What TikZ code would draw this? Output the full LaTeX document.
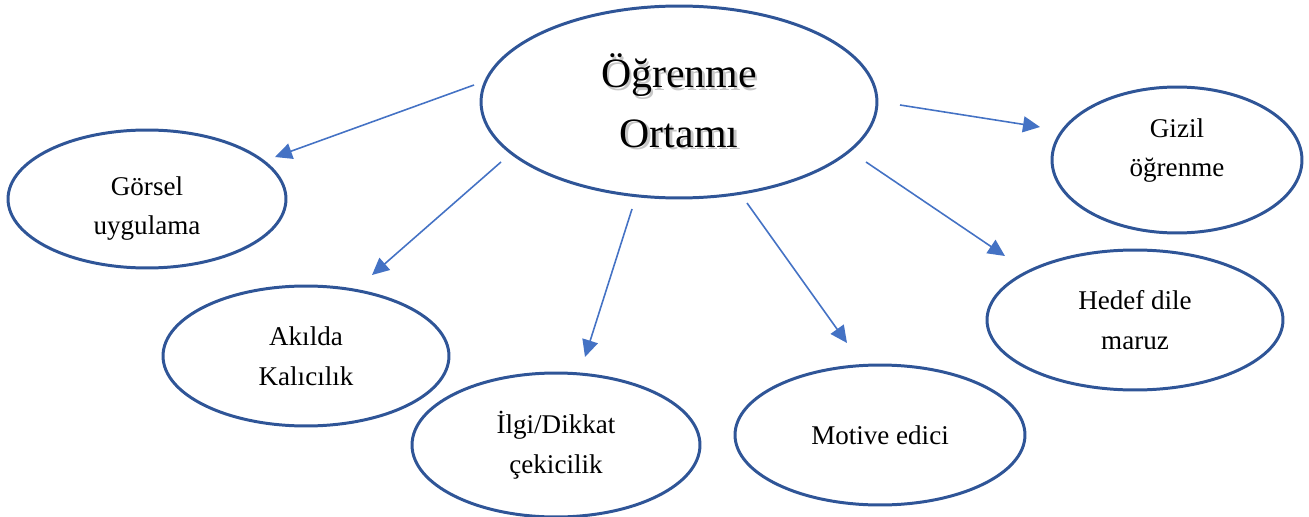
\documentclass[tikz,border=0pt]{standalone}
\usepackage{fontspec}
\setmainfont{Liberation Serif}
\usetikzlibrary{shapes.geometric,arrows.meta}
\definecolor{edge}{HTML}{2F5597}
\definecolor{arr}{HTML}{4472C4}
\newcommand{\shadowtxt}[1]{\rlap{\kern0.05cm\raisebox{-0.05cm}{\color{black!22}#1}}#1}
\newcommand{\liftlines}[3]{\raisebox{#1}[\height][\depth]{\begin{tabular}{@{}c@{}}#2\\#3\end{tabular}}}
\tikzset{
  oval/.style={ellipse, draw=edge, line width=1.7pt, inner sep=0pt, align=center,
    font=\fontsize{15.4}{22.7}\selectfont},
  conn/.style={draw=arr, line width=0.9pt, -{Triangle[length=0.34cm,width=0.32cm]}},
}
\begin{document}
\begin{tikzpicture}[x=0.02cm,y=-0.02cm]
\useasboundingbox (0,0) rectangle (1309,517);
\node[oval, minimum width=7.92cm, minimum height=3.84cm, font=\fontsize{23.8}{34}\selectfont] (c) at (679,102) {\shadowtxt{Öğrenme}\\\shadowtxt{Ortamı}};
\node[oval, minimum width=5.56cm, minimum height=2.76cm] (g) at (147,199) {\liftlines{-0.16cm}{Görsel}{uygulama}};
\node[oval, minimum width=5.72cm, minimum height=2.8cm] (a) at (306,356) {Akılda\\Kalıcılık};
\node[oval, minimum width=5.76cm, minimum height=2.88cm] (i) at (556,445) {İlgi/Dikkat\\çekicilik};
\node[oval, minimum width=5.8cm, minimum height=2.8cm] (m) at (880,435) {Motive edici};
\node[oval, minimum width=5.92cm, minimum height=2.8cm] (h) at (1135,320) {Hedef dile\\maruz};
\node[oval, minimum width=5cm, minimum height=2.92cm] (z) at (1177,160) {\liftlines{0.22cm}{Gizil}{öğrenme}};
\coordinate (s1) at (474,85);  \coordinate (e1) at (275,157);
\coordinate (s2) at (501,162); \coordinate (e2) at (372,275);
\coordinate (s3) at (632,209); \coordinate (e3) at (585,357);
\coordinate (s4) at (747,203); \coordinate (e4) at (847,343);
\coordinate (s5) at (900,105); \coordinate (e5) at (1040,127);
\coordinate (s6) at (866,162); \coordinate (e6) at (1005,256);
\draw[conn] (s1) -- (e1);
\draw[conn] (s2) -- (e2);
\draw[conn] (s3) -- (e3);
\draw[conn] (s4) -- (e4);
\draw[conn] (s5) -- (e5);
\draw[conn] (s6) -- (e6);
\end{tikzpicture}
\end{document}
